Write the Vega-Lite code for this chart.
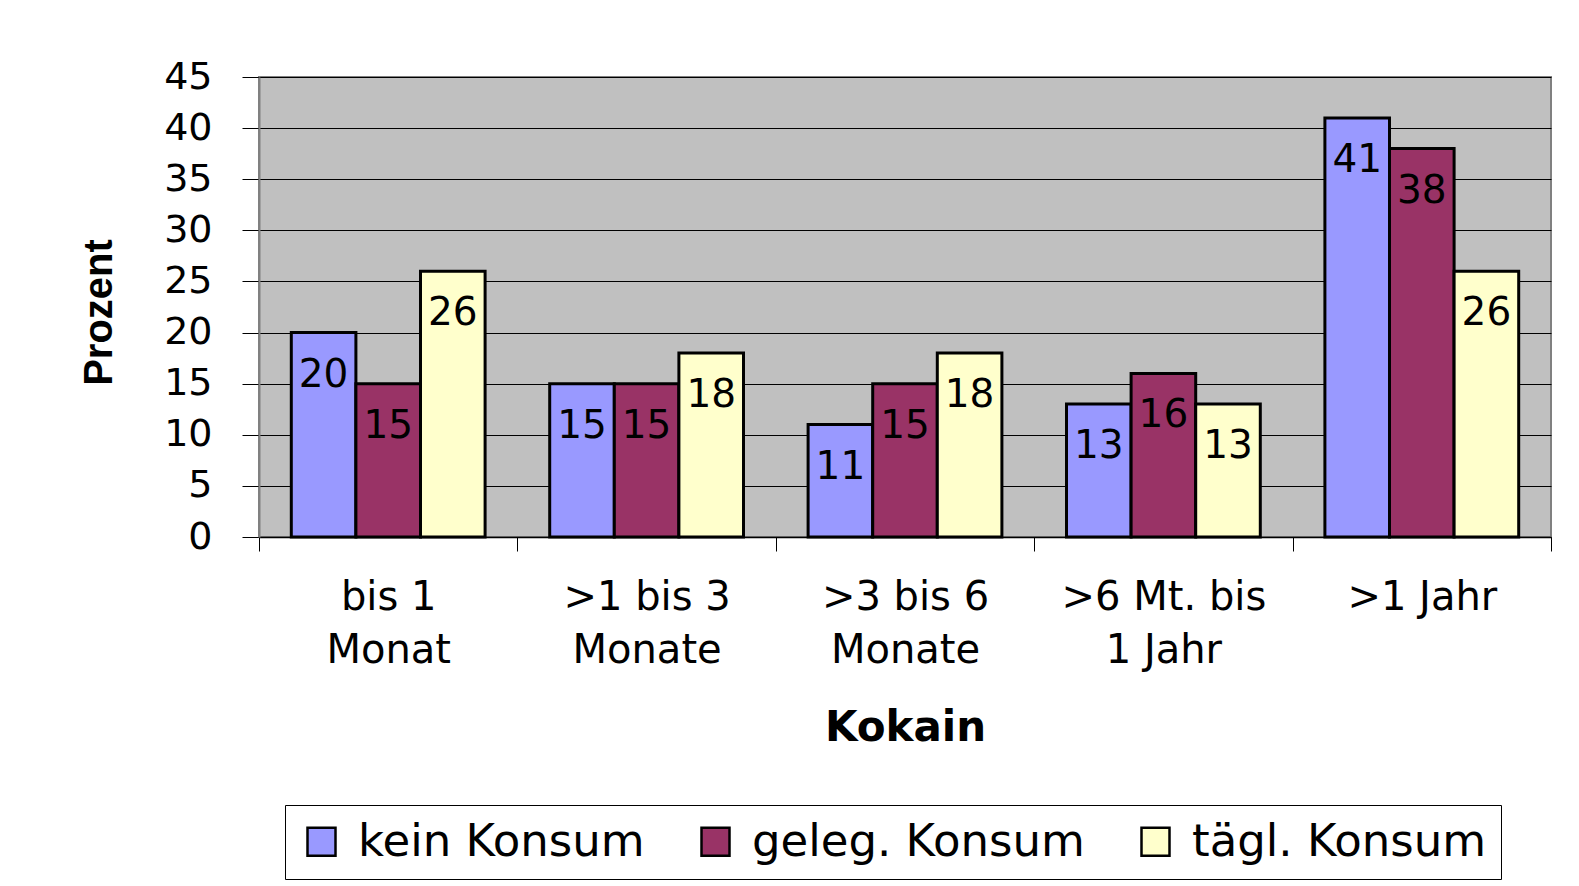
{
  "$schema": "https://vega.github.io/schema/vega-lite/v6.json",
  "width": 1292,
  "height": 460,
  "autosize": {"type": "none"},
  "padding": {"left": 259, "top": 77, "right": 28, "bottom": 349},
  "background": "white",
  "config": {
    "font": "DejaVu Sans",
    "view": {"fill": "#C0C0C0", "stroke": "#808080", "strokeWidth": 2}
  },
  "data": {
    "values": [
      {"zeit": "bis 1 Monat", "konsum": "kein Konsum", "prozent": 20},
      {"zeit": "bis 1 Monat", "konsum": "geleg. Konsum", "prozent": 15},
      {"zeit": "bis 1 Monat", "konsum": "tägl. Konsum", "prozent": 26},
      {"zeit": ">1 bis 3 Monate", "konsum": "kein Konsum", "prozent": 15},
      {"zeit": ">1 bis 3 Monate", "konsum": "geleg. Konsum", "prozent": 15},
      {"zeit": ">1 bis 3 Monate", "konsum": "tägl. Konsum", "prozent": 18},
      {"zeit": ">3 bis 6 Monate", "konsum": "kein Konsum", "prozent": 11},
      {"zeit": ">3 bis 6 Monate", "konsum": "geleg. Konsum", "prozent": 15},
      {"zeit": ">3 bis 6 Monate", "konsum": "tägl. Konsum", "prozent": 18},
      {"zeit": ">6 Mt. bis 1 Jahr", "konsum": "kein Konsum", "prozent": 13},
      {"zeit": ">6 Mt. bis 1 Jahr", "konsum": "geleg. Konsum", "prozent": 16},
      {"zeit": ">6 Mt. bis 1 Jahr", "konsum": "tägl. Konsum", "prozent": 13},
      {"zeit": ">1 Jahr", "konsum": "kein Konsum", "prozent": 41},
      {"zeit": ">1 Jahr", "konsum": "geleg. Konsum", "prozent": 38},
      {"zeit": ">1 Jahr", "konsum": "tägl. Konsum", "prozent": 26}
    ]
  },
  "encoding": {
    "x": {
      "field": "zeit",
      "type": "nominal",
      "sort": ["bis 1 Monat", ">1 bis 3 Monate", ">3 bis 6 Monate", ">6 Mt. bis 1 Jahr", ">1 Jahr"],
      "scale": {"paddingInner": 0, "paddingOuter": 0},
      "axis": {
        "labelAngle": 0,
        "tickBand": "extent",
        "tickSize": 14,
        "tickColor": "black",
        "tickWidth": 1,
        "domainColor": "black",
        "domainWidth": 1.5,
        "labelFontSize": 40,
        "labelColor": "black",
        "labelPadding": 26,
        "labelLineHeight": 53,
        "labelLimit": 0,
        "labelExpr": "datum.value == 'bis 1 Monat' ? ['bis 1', 'Monat'] : datum.value == '>1 bis 3 Monate' ? ['>1 bis 3', 'Monate'] : datum.value == '>3 bis 6 Monate' ? ['>3 bis 6', 'Monate'] : datum.value == '>6 Mt. bis 1 Jahr' ? ['>6 Mt. bis', '1 Jahr'] : datum.value",
        "title": "Kokain",
        "titleFontSize": 42,
        "titleFontWeight": "bold",
        "titleColor": "black",
        "titleY": 203,
        "titleBaseline": "alphabetic"
      }
    },
    "xOffset": {
      "field": "konsum",
      "type": "nominal",
      "sort": ["kein Konsum", "geleg. Konsum", "tägl. Konsum"],
      "scale": {"paddingInner": 0, "paddingOuter": 0.5}
    },
    "y": {
      "field": "prozent",
      "type": "quantitative",
      "scale": {"domain": [0, 45], "nice": false},
      "axis": {
        "values": [0, 5, 10, 15, 20, 25, 30, 35, 40, 45],
        "grid": true,
        "gridColor": "black",
        "gridWidth": 1,
        "gridOpacity": 1,
        "tickColor": "black",
        "tickSize": 17,
        "tickWidth": 1,
        "domainColor": "#808080",
        "domainWidth": 2,
        "labelFontSize": 38,
        "labelColor": "black",
        "labelPadding": 30,
        "title": "Prozent",
        "titleFont": "Liberation Sans",
        "titleFontWeight": "bold",
        "titleFontSize": 40,
        "titleColor": "black",
        "titleX": -148,
        "titleY": 235,
        "titleAngle": 270,
        "titleBaseline": "alphabetic",
        "titleAlign": "center"
      }
    }
  },
  "layer": [
    {
      "mark": {"type": "bar", "stroke": "black", "strokeWidth": 3},
      "encoding": {
        "color": {
          "field": "konsum",
          "type": "nominal",
          "sort": ["kein Konsum", "geleg. Konsum", "tägl. Konsum"],
          "scale": {
            "domain": ["kein Konsum", "geleg. Konsum", "tägl. Konsum"],
            "range": ["#9999FF", "#993366", "#FFFFCC"]
          },
          "legend": {
            "orient": "none",
            "legendX": 26,
            "legendY": 728,
            "direction": "horizontal",
            "title": null,
            "strokeColor": "black",
            "fillColor": "white",
            "padding": 14,
            "symbolType": "square",
            "symbolSize": 784,
            "symbolStrokeColor": "black",
            "symbolStrokeWidth": 2.5,
            "symbolOpacity": 1,
            "labelFontSize": 45,
            "labelFont": "DejaVu Sans",
            "labelColor": "black",
            "labelOffset": 14,
            "labelLimit": 0,
            "columnPadding": 48
          }
        }
      }
    },
    {
      "mark": {"type": "text", "baseline": "alphabetic", "dy": 54, "fontSize": 39, "color": "black"},
      "encoding": {"text": {"field": "prozent", "type": "quantitative"}}
    }
  ]
}
